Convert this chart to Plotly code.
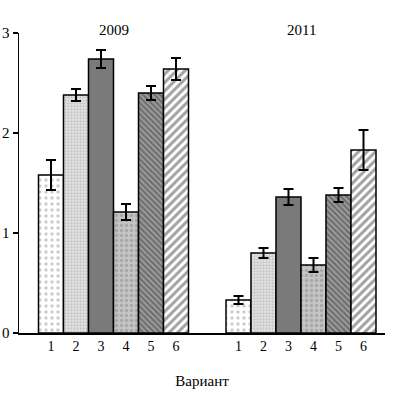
import plotly.graph_objects as go

years = ["2009", "2011"]
variants = ["1", "2", "3", "4", "5", "6"]
values_2009 = [1.58, 2.38, 2.74, 1.21, 2.40, 2.64]
errors_2009 = [0.15, 0.06, 0.09, 0.08, 0.07, 0.11]
values_2011 = [0.33, 0.80, 1.36, 0.68, 1.38, 1.83]
errors_2011 = [0.04, 0.05, 0.08, 0.07, 0.07, 0.20]
y_ticks = [0, 1, 2, 3]
x_title = "Вариант"

group_offset = 7.5

styles = [
    dict(shape=".", bg="#ffffff", fg="#9a9a9a", size=6, sol=0.25),
    dict(shape=".", bg="#e4e4e4", fg="#a8a8a8", size=3, sol=0.45),
    dict(shape="", bg="#7a7a7a", fg="#7a7a7a", size=5, sol=0.3),
    dict(shape=".", bg="#c4c4c4", fg="#8a8a8a", size=5, sol=0.35),
    dict(shape="\\", bg="#9a9a9a", fg="#333333", size=4, sol=0.45),
    dict(shape="/", bg="#ffffff", fg="#444444", size=6, sol=0.5),
]

fig = go.Figure()
for i, v in enumerate(variants):
    st = styles[i]
    xs = [i + 1, i + 1 + group_offset]
    fig.add_trace(go.Bar(
        x=xs,
        y=[values_2009[i], values_2011[i]],
        width=1,
        marker=dict(
            color=st["bg"],
            line=dict(color="black", width=1.5),
            pattern=dict(shape=st["shape"], bgcolor=st["bg"], fgcolor=st["fg"],
                         size=st["size"], solidity=st["sol"], fillmode="overlay"),
        ),
        error_y=dict(type="data", array=[errors_2009[i], errors_2011[i]],
                     color="black", thickness=2, width=5),
        showlegend=False,
        hoverinfo="skip",
    ))

tickvals = [i + 1 for i in range(6)] + [i + 1 + group_offset for i in range(6)]
ticktext = variants + variants

for g, yr in enumerate(years):
    fig.add_annotation(x=3.5 + g * group_offset, y=1.01, xref="x", yref="paper",
                       text=yr, showarrow=False, yanchor="middle",
                       font=dict(family="Liberation Serif", size=15, color="black"))

fig.update_layout(
    width=403, height=394,
    margin=dict(l=19, r=18, t=33, b=61),
    paper_bgcolor="white", plot_bgcolor="white",
    barmode="overlay",
    hovermode=False,
    font=dict(family="Liberation Serif", size=14, color="black"),
    xaxis=dict(range=[-0.28, 14.36], tickvals=tickvals, ticktext=ticktext,
               showline=True, linecolor="black", linewidth=1.5, ticks="",
               showgrid=False, zeroline=False, automargin=False, fixedrange=True,
               title=dict(text=x_title, standoff=22,
                          font=dict(family="Liberation Serif", size=15))),
    yaxis=dict(range=[0, 3], tickvals=y_ticks, ticktext=[str(t) for t in y_ticks],
               showline=True, linecolor="black", linewidth=1.5, ticks="outside",
               ticklen=5, tickwidth=1.5, tickcolor="black", automargin=False,
               fixedrange=True, tickfont=dict(size=15),
               showgrid=False, zeroline=False, ticklabelstandoff=0),
)

fig.write_html("out.html", config={"displayModeBar": False, "staticPlot": True},
               post_script="document.body.style.margin='0';")
